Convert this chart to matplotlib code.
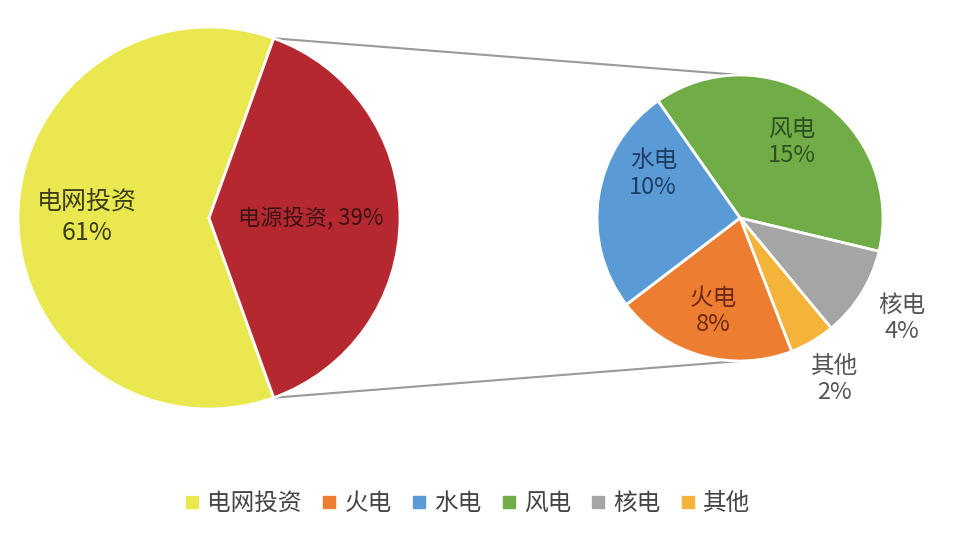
import numpy as np
import matplotlib.pyplot as plt
from matplotlib.patches import ConnectionPatch

plt.rcParams['font.family'] = ['Noto Sans CJK SC', 'DejaVu Sans']

# data
main_names = ['电网投资', '电源投资']
main_vals = [61, 39]
sub_names = ['风电', '核电', '其他', '火电', '水电']
sub_vals = [15, 4, 2, 8, 10]
legend_names = ['电网投资', '火电', '水电', '风电', '核电', '其他']

main_colors = ['#E9E84E', '#B5282F']
sub_colors = {'风电': '#70AD47', '核电': '#A5A5A5', '其他': '#F4B43A',
              '火电': '#ED7D31', '水电': '#5B9BD5'}

W, H = 967, 541
fig = plt.figure(figsize=(W / 100, H / 100), dpi=100)


def px_axes(cx, cy, r):
    return fig.add_axes([(cx - r) / W, (H - cy - r) / H, 2 * r / W, 2 * r / H])


# left pie
ax1 = px_axes(209, 218, 191)
share = main_vals[1] / sum(main_vals)
w1, _ = ax1.pie(main_vals, colors=main_colors, startangle=180 * share,
                wedgeprops=dict(edgecolor='white', linewidth=2))
ax1.set_xlim(-1, 1)
ax1.set_ylim(-1, 1)
ax1.text(-0.64, 0, f'{main_names[0]}\n{main_vals[0]}%', ha='center', va='center',
         fontsize=18, color='#3d3d1a', linespacing=1.2)
ax1.text(0.53, 0, f'{main_names[1]}, {main_vals[1]}%', ha='center', va='center',
         fontsize=16, color='#3b1214')

# right pie
ax2 = px_axes(740, 218, 143)
w2, _ = ax2.pie(sub_vals, colors=[sub_colors[n] for n in sub_names],
                startangle=125, counterclock=False,
                wedgeprops=dict(edgecolor='white', linewidth=2))
ax2.set_xlim(-1, 1)
ax2.set_ylim(-1, 1)

label_r = {'风电': 0.64, '核电': 1.33, '其他': 1.31, '火电': 0.68, '水电': 0.68}
label_c = {'风电': '#2f4f20', '核电': '#555555', '其他': '#555555',
           '火电': '#6b2a12', '水电': '#1e3d66'}
for wd, n, v in zip(w2, sub_names, sub_vals):
    a = np.deg2rad((wd.theta1 + wd.theta2) / 2)
    if n == '水电':
        a += np.deg2rad(-18)
    r = label_r[n]
    ax2.text(r * np.cos(a), r * np.sin(a), f'{n}\n{v}%', ha='center', va='center',
             fontsize=17, color=label_c[n], linespacing=1.2, clip_on=False)

# connecting lines
red = w1[1]
for th, y in [(red.theta2, 1), (red.theta1, -1)]:
    t = np.deg2rad(th)
    con = ConnectionPatch(xyA=(np.cos(t), np.sin(t)), coordsA=ax1.transData,
                          xyB=(0, y), coordsB=ax2.transData,
                          color='#9a9a9a', linewidth=1.5)
    fig.add_artist(con)
    con.set_zorder(0)

# legend
all_colors = {'电网投资': main_colors[0], **sub_colors}
handles = [plt.Line2D([], [], marker='s', linestyle='none', markersize=8,
                      color=all_colors[n]) for n in legend_names]
fig.legend(handles, legend_names, loc='center', bbox_to_anchor=(0.482, 0.069),
           ncol=6, frameon=False, fontsize=17, handletextpad=0.2,
           columnspacing=0.7, handlelength=0.9, labelcolor='#444444')

fig.savefig('out.png', dpi=100)
